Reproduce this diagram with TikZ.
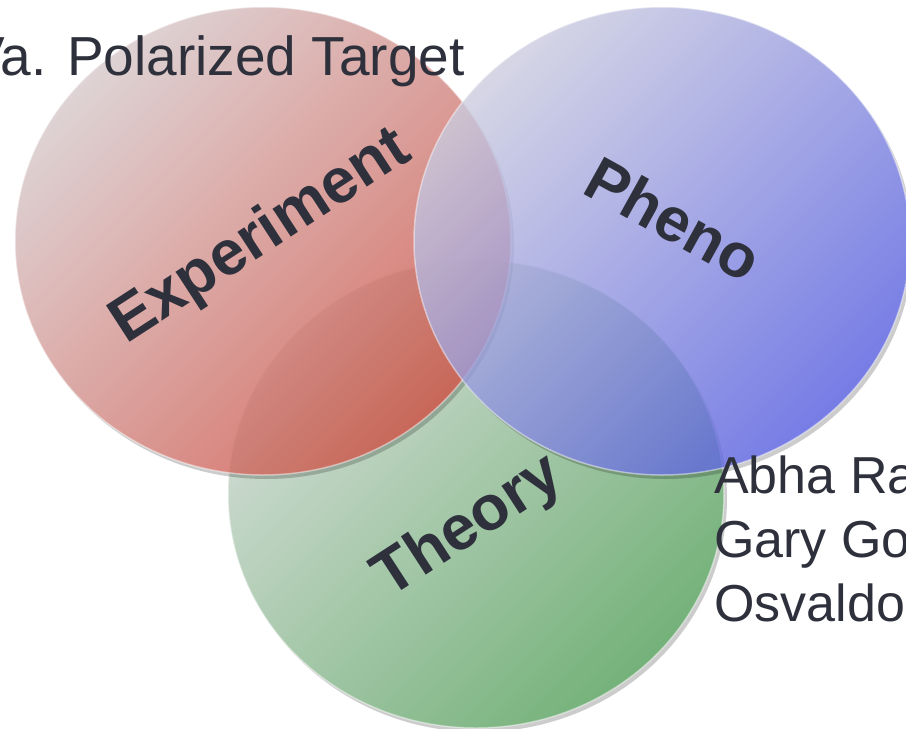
\documentclass[tikz,border=0pt]{standalone}
\usepackage{fontspec}
\setmainfont{Liberation Sans}
\usetikzlibrary{positioning}
\definecolor{inkgray}{RGB}{46,48,60}
\definecolor{redlight}{RGB}{214,200,202}
\definecolor{reddark}{RGB}{205,78,66}
\definecolor{bluelight}{RGB}{204,204,222}
\definecolor{bluedark}{RGB}{84,92,222}
\definecolor{greenlight}{RGB}{200,212,204}
\definecolor{greendark}{RGB}{82,158,88}
\tikzset{
	bubble/.style={top color=#1light, bottom color=#1dark, shading angle=45, fill opacity=0.8, draw=white, draw opacity=0.45, line width=1.5pt},
	rimshadow/.style={fill=black, fill opacity=0.2},
	biglabel/.style={font=\bfseries\fontsize{63}{72}\selectfont, text=inkgray, inner sep=0pt, anchor=base},
	sidetext/.style={font=\fontsize{52}{62}\selectfont, text=inkgray, inner sep=0pt, anchor=base west}
}
\begin{document}
\begin{tikzpicture}[x=1pt, y=-1pt]
	\useasboundingbox (0,0) rectangle (906,729);
	\clip (0,0) rectangle (906,729);
	\coordinate (theoc) at (476,494);
	\coordinate (expc) at (263,241);
	\coordinate (phenc) at (662,241);

	\begin{scope}[even odd rule]
		\clip (-20,-20) rectangle (930,750) (theoc) ellipse [x radius=248, y radius=234];
		\fill[rimshadow] (theoc) ++(3,4) ellipse [x radius=248, y radius=234];
	\end{scope}
	\shade[bubble=green] (theoc) ellipse [x radius=248, y radius=234];

	\begin{scope}[even odd rule]
		\clip (-20,-20) rectangle (930,750) (expc) ellipse [x radius=248, y radius=234];
		\fill[rimshadow] (expc) ++(3,4) ellipse [x radius=248, y radius=234];
	\end{scope}
	\shade[bubble=red] (expc) ellipse [x radius=248, y radius=234];

	\begin{scope}[even odd rule]
		\clip (-20,-20) rectangle (930,750) (phenc) ellipse [x radius=248, y radius=234];
		\fill[rimshadow] (phenc) ++(3,4) ellipse [x radius=248, y radius=234];
	\end{scope}
	\shade[bubble=blue] (phenc) ellipse [x radius=248, y radius=234];

	\node[biglabel, rotate=33] (exp) at (270,251) {Experiment};
	\node[biglabel, rotate=-29, font=\bfseries\fontsize{62}{72}\selectfont] (phen) at (663,238) {Pheno};
	\node[biglabel, rotate=33] (theo) at (478,541) {Theory};

	\node[sidetext, font=\fontsize{55}{64}\selectfont] (target) at (-32,75) {Va. Polarized Target};
	\node[sidetext] (abha) at (714,493) {Abha Ra};
	\node[sidetext] (gary) at (714,557) {Gary Go};
	\node[sidetext] (osv) at (714,621) {Osvaldo};
\end{tikzpicture}
\end{document}
